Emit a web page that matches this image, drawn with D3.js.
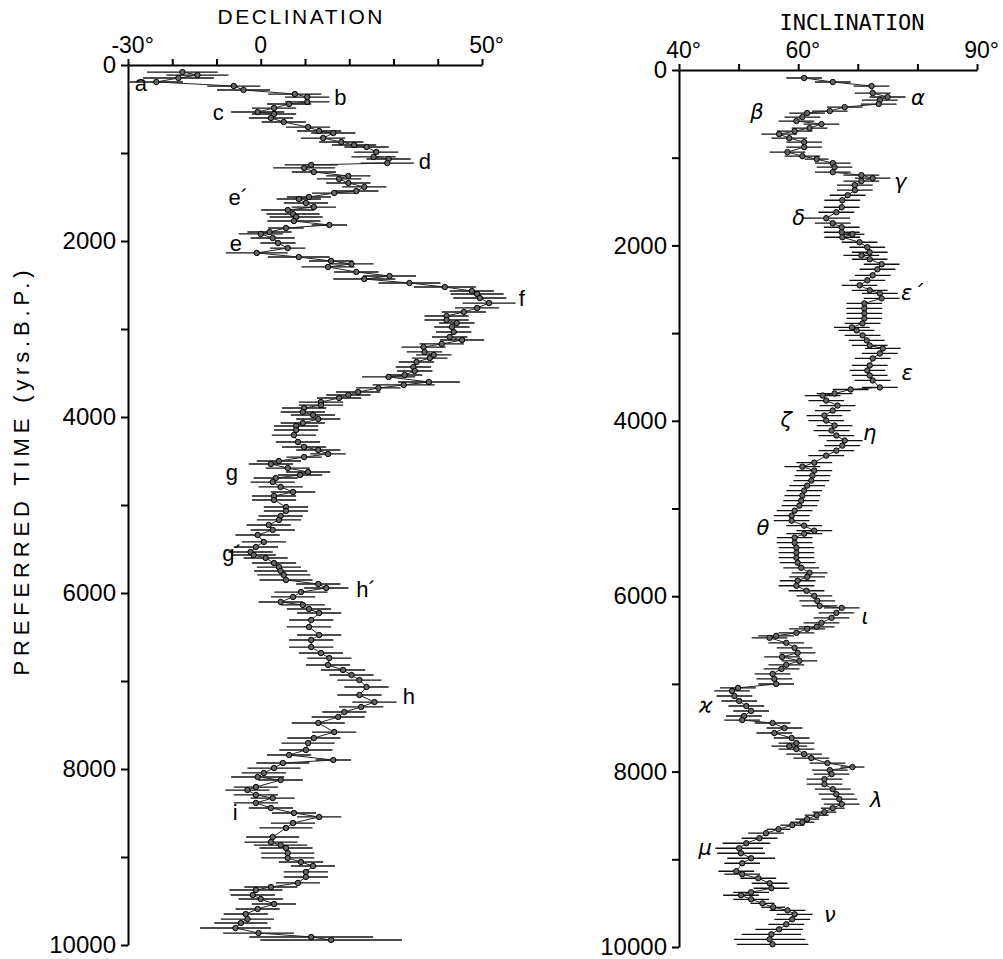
<!DOCTYPE html>
<html>
<head>
<meta charset="utf-8">
<script src="https://cdn.jsdelivr.net/npm/d3@7/dist/d3.min.js"></script>
<style>
  body { margin: 0; background: #fff; }
</style>
</head>
<body>
<svg id="chart" width="1003" height="959"></svg>
<script>
// ---- data ----
const decTicks = [-30, -20, -10, 0, 10, 20, 30, 40, 50];
const decTickLabels = [-30, 0, 50];
const incTicks = [40, 50, 60, 70, 80, 90];
const incTickLabels = [40, 60, 90];
const timeTicks = [0, 1000, 2000, 3000, 4000, 5000, 6000, 7000, 8000, 9000, 10000];
const timeTickLabels = [0, 2000, 4000, 6000, 8000, 10000];

// declination: time (yrs B.P.), value (deg), half-width of error bar (deg)
const decTime = [
  80,114,148,193,239,284,330,364,420,443,
  489,534,557,602,648,705,750,773,830,875,
  909,932,989,1045,1068,1114,1136,1170,1216,1261,
  1295,1341,1386,1432,1455,1500,1523,1568,1614,1648,
  1693,1727,1773,1818,1852,1898,1920,1966,2023,2080,
  2136,2182,2227,2261,2295,2352,2398,2432,2477,2523,
  2568,2602,2648,2705,2761,2807,2852,2898,2932,2977,
  3034,3091,3125,3170,3205,3261,3295,3330,3375,3432,
  3477,3523,3545,3602,3636,3670,3716,3750,3784,3830,
  3864,3898,3943,3977,4023,4068,4102,4148,4205,4284,
  4341,4375,4420,4455,4500,4534,4580,4625,4659,4693,
  4739,4795,4852,4898,4943,5023,5068,5125,5170,5227,
  5284,5341,5420,5477,5534,5568,5602,5659,5705,5750,
  5795,5852,5898,5943,5989,6045,6102,6136,6182,6227,
  6307,6386,6477,6534,6614,6682,6739,6818,6875,6932,
  6989,7068,7159,7239,7295,7352,7409,7477,7580,7648,
  7705,7784,7841,7898,7932,7989,8045,8091,8125,8205,
  8239,8295,8330,8386,8443,8500,8545,8614,8670,8773,
  8830,8864,8898,8955,9011,9057,9102,9170,9227,9295,
  9341,9375,9432,9477,9534,9591,9648,9705,9750,9807,
  9864,9909,9943
];
const decValue = [
  -17.7,-14.3,-18.6,-23.6,-6.1,-3.9,7.7,10.5,10.5,6.4,
  3.0,-0.7,3.0,2.3,5.2,10.7,13.2,16.4,14.1,18.2,
  21.1,23.9,26.1,25.5,28.9,28.6,11.4,9.8,12.0,19.8,
  17.7,19.8,23.4,21.6,16.6,10.9,8.6,10.2,12.0,6.1,
  7.3,8.0,7.5,15.5,5.7,2.0,0.0,2.7,3.9,6.1,
  -0.9,8.6,15.9,20.5,15.2,21.6,29.1,23.4,33.6,41.6,
  47.7,48.9,49.5,51.6,48.9,45.9,42.0,42.0,44.3,43.2,
  43.6,42.7,45.5,40.9,36.8,37.0,39.1,38.2,35.2,34.5,
  34.8,32.5,28.9,38.0,32.3,26.6,22.0,19.8,17.7,13.6,
  13.6,9.8,9.5,11.8,13.0,9.5,8.0,8.0,7.5,8.4,
  9.8,13.0,15.2,9.8,4.1,2.3,6.1,10.7,8.9,3.4,
  2.7,4.5,7.3,3.0,3.0,5.7,5.7,4.5,4.1,1.8,
  2.7,-0.7,0.7,-1.1,-2.3,-1.6,1.1,3.0,4.1,4.5,
  5.2,5.7,13.0,14.8,9.1,7.3,4.5,9.5,10.9,13.2,
  11.4,10.9,13.2,11.4,11.4,13.6,15.5,15.2,18.6,20.5,
  22.3,23.9,22.3,25.7,22.7,18.9,17.5,13.0,16.6,12.0,
  10.7,10.2,6.4,16.4,5.0,3.0,0.7,-0.7,4.5,-1.1,
  -3.0,-1.1,2.7,-1.1,2.3,7.5,13.2,7.3,5.7,2.7,
  2.3,4.5,5.7,6.1,6.1,9.1,11.8,10.2,10.2,8.4,
  2.3,-1.1,-1.8,0.0,3.0,-0.7,-3.4,-3.0,-4.5,-5.7,
  -0.5,11.4,15.9
];
const decError = [
  8,7,8,6,6,6,6,5,5,5,
  5,6,5,5,5,5,5,5,5,5,
  5,5,5,5,5,6,6,7,5,5,
  5,5,5,5,5,5,5,5,5,6,
  6,6,6,4,4,5,5,5,4,4,
  7,7,5,5,6,5,6,7,7,7,
  5,6,6,6,5,5,5,5,4,4,
  4,4,5,5,5,4,4,4,4,4,
  4,4,6,7,7,5,5,5,5,5,
  5,5,5,5,5,5,5,5,5,5,
  5,5,4,4,5,5,5,5,5,5,
  5,5,5,5,5,5,5,5,5,5,
  5,5,5,5,5,5,5,5,5,6,
  6,6,5,5,6,5,5,5,5,5,
  5,5,5,5,5,5,5,5,5,5,
  5,5,5,5,5,5,6,6,5,6,
  6,6,5,4,6,6,5,6,5,5,
  5,5,5,5,5,5,5,5,6,6,
  6,6,6,6,6,5,5,5,5,5,
  6,6,5,5,5,5,5,6,6,8,
  8,14,16
];

// inclination: time (yrs B.P.), value (deg), half-width of error bar (deg)
const incTime = [
  91,137,183,263,308,343,388,423,468,491,
  537,582,617,662,697,731,777,822,879,936,
  982,1016,1062,1108,1165,1199,1234,1268,1313,1370,
  1428,1485,1565,1622,1690,1747,1793,1850,1873,1907,
  1964,2021,2078,2113,2158,2215,2272,2341,2398,2455,
  2512,2547,2604,2661,2718,2775,2832,2889,2935,2969,
  3026,3083,3141,3175,3232,3289,3369,3426,3483,3540,
  3620,3643,3689,3712,3769,3826,3883,3940,3997,4054,
  4111,4168,4225,4283,4340,4397,4477,4523,4568,4625,
  4682,4739,4796,4853,4911,4968,5025,5082,5139,5196,
  5253,5287,5333,5390,5447,5504,5561,5618,5676,5733,
  5779,5824,5881,5938,5996,6053,6110,6133,6190,6247,
  6304,6349,6372,6418,6452,6475,6532,6589,6646,6692,
  6738,6783,6829,6886,6943,7001,7046,7080,7138,7195,
  7252,7309,7366,7412,7446,7503,7560,7617,7675,7709,
  7743,7800,7846,7903,7948,7983,8029,8086,8143,8200,
  8257,8314,8371,8417,8462,8497,8542,8577,8611,8657,
  8702,8760,8817,8874,8931,8988,9045,9136,9170,9216,
  9273,9330,9376,9410,9456,9502,9547,9582,9627,9684,
  9741,9798,9855,9912,9969
];
const incValue = [
  61.0,65.8,72.3,72.5,75.0,73.7,73.5,67.8,65.3,61.5,
  60.7,59.7,63.9,61.9,59.4,56.8,58.5,61.0,61.0,58.2,
  60.7,63.1,65.8,66.1,65.8,70.6,72.5,70.6,69.5,69.5,
  68.3,67.4,67.3,66.4,64.7,65.8,67.3,67.3,69.1,67.4,
  70.3,71.6,72.0,70.6,72.0,74.0,73.3,72.5,71.6,70.3,
  72.0,73.7,74.0,71.1,71.1,71.1,71.1,70.8,69.0,69.8,
  70.8,71.5,72.0,74.2,73.7,72.5,72.0,71.6,72.0,72.5,
  73.7,68.8,66.1,64.1,64.7,66.6,65.8,64.4,64.7,66.1,
  65.6,66.4,67.8,67.4,66.4,64.7,62.7,60.7,62.7,62.4,
  62.2,61.5,61.0,60.7,60.5,60.2,59.4,58.9,58.9,61.0,
  62.7,61.0,59.4,59.4,59.7,59.7,59.7,59.9,60.5,61.9,
  61.5,59.9,59.7,61.4,62.7,63.2,63.6,67.3,66.4,65.6,
  63.9,63.1,61.5,59.7,56.3,55.2,58.0,59.4,59.9,57.3,
  60.2,58.0,57.2,55.7,56.0,56.3,49.9,48.9,49.3,50.1,
  51.3,52.1,50.9,50.6,55.7,57.7,56.0,58.9,59.7,58.5,
  59.7,61.0,62.2,64.9,69.1,65.3,65.6,64.4,64.4,65.8,
  66.4,66.9,67.3,65.8,64.4,63.1,61.5,60.7,59.0,56.7,
  54.6,53.5,51.3,50.1,50.4,52.1,50.6,49.6,50.6,53.3,
  55.2,55.5,52.1,50.4,52.1,54.0,55.8,58.2,59.4,59.0,
  58.0,56.8,55.5,55.2,55.7
];
const incError = [
  3,3,3,3,3,3,3,3,3,3,
  3,3,3,3,3,3,3,3,3,3,
  3,2,3,3,3,3,3,3,3,3,
  3,3,3,3,4,3,3,3,2,3,
  3,3,3,3,3,3,3,3,3,3,
  3,3,3,3,3,3,3,3,3,3,
  3,3,3,3,3,3,3,3,3,3,
  3,3,3,3,3,3,3,3,3,3,
  3,3,3,3,3,3,3,3,3,3,
  3,3,3,3,3,3,3,3,3,3,
  3,3,3,3,3,3,3,3,3,3,
  3,3,3,3,3,3,3,3,3,3,
  3,3,3,3,3,3,3,3,3,3,
  3,3,3,3,3,3,3,3,3,3,
  3,3,3,3,3,3,3,3,3,3,
  3,3,3,3,2,3,3,3,3,3,
  3,3,3,2,2,2,2,2,2,2,
  3,3,4,4,4,4,3,3,3,3,
  3,3,3,3,3,2,2,3,3,3,
  3,4,5,6,6
];

// feature labels: letter, time, value
const decLabels = ['a', 'b', 'c', 'd', 'e\u00b4', 'e', 'f', 'g', 'g\u00b4', 'h\u00b4', 'h', 'i'];
const decLabelTime = [205, 364, 534, 1091, 1500, 2023, 2648, 4625, 5545, 5955, 7170, 8489];
const decLabelValue = [-27.1, 18.0, -9.6, 37.1, -5.1, -5.6, 59.0, -6.5, -6.5, 23.8, 33.5, -5.8];

const incLabels = ['\u03b1', '\u03b2', '\u03b3', '\u03b4', '\u03b5\u00b4', '\u03b5', '\u03b6', '\u03b7', '\u03b8', '\u03b9', '\u03f0', '\u03bb', '\u03bc', '\u03bd'];
const incLabelTime = [319, 479, 1277, 1687, 2542, 3454, 3990, 4138, 5221, 6236, 7250, 8322, 8869, 9633];
const incLabelValue = [80.1, 53.1, 77.1, 60.1, 79.1, 78.3, 58.0, 72.0, 54.1, 71.2, 44.5, 73.1, 44.4, 65.3];

// ---- drawing ----
const svg = d3.select('#chart');
const sans = "'Liberation Sans', Arial, sans-serif";

const decX = d3.scaleLinear().domain([-30, 50]).range([128, 482]);
const decY = d3.scaleLinear().domain([0, 10000]).range([65, 945]);
const incX = d3.scaleLinear().domain([40, 90]).range([679, 977]);
const incY = d3.scaleLinear().domain([0, 10000]).range([70, 947]);

function drawPanel(x, y, times, values, errors, ticks, tickLabels) {
    const top = y.range()[0];
    const left = x.range()[0];

    // top axis
    const gx = svg.append('g')
        .attr('transform', 'translate(0,' + top + ')')
        .call(d3.axisTop(x).tickValues(ticks).tickSize(6).tickSizeOuter(0).tickFormat(''));

    // time axis
    const gy = svg.append('g')
        .attr('transform', 'translate(' + left + ',0)')
        .call(d3.axisLeft(y).tickValues(timeTicks).tickSize(7).tickSizeOuter(0).tickPadding(5)
            .tickFormat(d => timeTickLabels.includes(d) ? d : ''));

    [gx, gy].forEach(g => {
        g.selectAll('path, line').attr('stroke', '#000').attr('stroke-width', 2);
        g.selectAll('text').attr('font-family', sans).attr('font-size', 24).attr('fill', '#000');
    });

    // degree tick labels on top
    tickLabels.forEach(v => {
        const t = svg.append('text')
            .attr('x', x(v)).attr('y', top - 12)
            .attr('text-anchor', 'middle')
            .attr('font-family', sans).attr('font-size', 23)
            .text(v);
        if (v !== 0) {
            const w = t.node().getComputedTextLength();
            svg.append('text')
                .attr('x', x(v) + w / 2).attr('y', top - 12)
                .attr('font-family', sans).attr('font-size', 23)
                .text('\u00b0');
        }
    });

    const idx = d3.range(Math.min(times.length, values.length, errors.length));

    // error bars
    svg.append('g').selectAll('line')
        .data(idx).join('line')
        .attr('x1', i => x(values[i] - errors[i]))
        .attr('x2', i => x(values[i] + errors[i]))
        .attr('y1', i => y(times[i]))
        .attr('y2', i => y(times[i]))
        .attr('stroke', '#111')
        .attr('stroke-width', 1.3);

    // connecting line
    svg.append('path')
        .datum(idx)
        .attr('fill', 'none')
        .attr('stroke', '#222')
        .attr('stroke-width', 1)
        .attr('d', d3.line().x(i => x(values[i])).y(i => y(times[i])));

    // points
    svg.append('g').selectAll('circle')
        .data(idx).join('circle')
        .attr('cx', i => x(values[i]))
        .attr('cy', i => y(times[i]))
        .attr('r', 2.7)
        .attr('fill', '#666')
        .attr('stroke', '#000')
        .attr('stroke-width', 1);
}

drawPanel(decX, decY, decTime, decValue, decError, decTicks, decTickLabels);
drawPanel(incX, incY, incTime, incValue, incError, incTicks, incTickLabels);

// titles
svg.append('text')
    .attr('x', 300).attr('y', 24)
    .attr('text-anchor', 'middle')
    .attr('font-family', sans).attr('font-size', 21)
    .attr('textLength', 165).attr('lengthAdjust', 'spacing')
    .text('DECLINATION');

svg.append('text')
    .attr('x', 852).attr('y', 30)
    .attr('text-anchor', 'middle')
    .attr('font-family', "'DejaVu Sans Mono', monospace").attr('font-size', 22)
    .attr('textLength', 145).attr('lengthAdjust', 'spacing')
    .text('INCLINATION');

svg.append('text')
    .attr('transform', 'translate(29,473) rotate(-90)')
    .attr('text-anchor', 'middle')
    .attr('font-family', sans).attr('font-size', 22)
    .attr('textLength', 405).attr('lengthAdjust', 'spacing')
    .text('PREFERRED TIME (yrs.B.P.)');

// feature labels
svg.append('g').selectAll('text')
    .data(decLabels).join('text')
    .attr('x', (d, i) => decX(decLabelValue[i]))
    .attr('y', (d, i) => decY(decLabelTime[i]))
    .attr('dy', '0.35em')
    .attr('text-anchor', 'middle')
    .attr('font-family', sans).attr('font-size', 22)
    .text(d => d);

svg.append('g').selectAll('text')
    .data(incLabels).join('text')
    .attr('x', (d, i) => incX(incLabelValue[i]))
    .attr('y', (d, i) => incY(incLabelTime[i]))
    .attr('dy', '0.35em')
    .attr('text-anchor', 'middle')
    .attr('font-family', "'DejaVu Sans', sans-serif").attr('font-style', 'italic').attr('font-size', 21)
    .text(d => d);
</script>
</body>
</html>
